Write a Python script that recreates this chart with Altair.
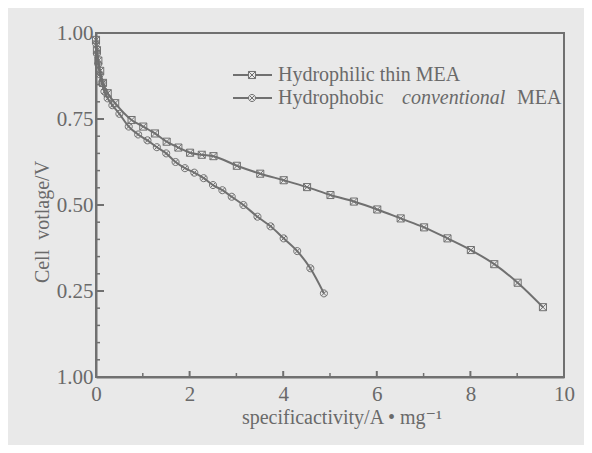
import altair as alt
import pandas as pd

# ---- data ----
philic_x = [0.0, 0.02, 0.05, 0.09, 0.15, 0.25, 0.41, 0.76, 1.01, 1.26, 1.51, 1.76, 2.01, 2.26, 2.51,
            3.01, 3.51, 4.01, 4.51, 5.01, 5.51, 6.01, 6.51, 7.01, 7.51, 8.01, 8.51, 9.01, 9.55]
philic_y = [0.98, 0.95, 0.92, 0.89, 0.855, 0.825, 0.796, 0.747, 0.728, 0.708, 0.684, 0.667, 0.652, 0.646, 0.642,
            0.614, 0.591, 0.572, 0.552, 0.529, 0.510, 0.487, 0.461, 0.435, 0.403, 0.369, 0.328, 0.274, 0.203]

phobic_x = [0.0, 0.02, 0.05, 0.08, 0.12, 0.18, 0.25, 0.35, 0.5, 0.7, 0.9, 1.1, 1.3, 1.5, 1.7, 1.9,
            2.1, 2.3, 2.5, 2.7, 2.9, 3.15, 3.45, 3.73, 4.01, 4.3, 4.58, 4.87]
phobic_y = [0.97, 0.94, 0.91, 0.88, 0.855, 0.83, 0.81, 0.79, 0.765, 0.728, 0.705, 0.688, 0.668, 0.65, 0.625, 0.607,
            0.594, 0.578, 0.558, 0.543, 0.524, 0.50, 0.466, 0.438, 0.403, 0.366, 0.316, 0.243]

series_names = ["Hydrophilic thin MEA", "Hydrophobic conventional MEA"]
y_ticks = [0.0, 0.25, 0.5, 0.75, 1.0]
y_minor = [0.05, 0.10, 0.15, 0.20, 0.30, 0.35, 0.40, 0.45, 0.55, 0.60, 0.65, 0.70, 0.80, 0.85, 0.90, 0.95]
x_ticks = [0, 2, 4, 6, 8, 10]
x_minor = [1, 3, 5, 7, 9]

# ---- styling ----
W, H = 468, 344
GRAY = "#707070"
TXT = "#6a6a6a"
BG = "#e9e9e9"
FONT = "Liberation Serif, DejaVu Serif, serif"
SQ_X = "M-1,-1H1V1H-1Z M-1,-1L1,1 M1,-1L-1,1"
CI_X = "M-1,0A1,1 0 1,1 1,0A1,1 0 1,1 -1,0Z M-0.7,-0.7L0.7,0.7 M0.7,-0.7L-0.7,0.7"

df = pd.concat([
    pd.DataFrame({"x": philic_x, "y": philic_y, "series": series_names[0]}),
    pd.DataFrame({"x": phobic_x, "y": phobic_y, "series": series_names[1]}),
])

xs = alt.Scale(domain=[0, 10], nice=False, zero=False)
ys = alt.Scale(domain=[0, 1], nice=False, zero=False)

x_axis = alt.Axis(values=x_ticks, tickSize=0, labelFont=FONT, labelFontSize=21, labelColor=TXT,
                  labelPadding=6, labelFlush=False, domainColor=GRAY, domainWidth=2, grid=False, title=None)
y_axis = alt.Axis(values=y_ticks, tickSize=0, labelFont=FONT, labelFontSize=21, labelColor=TXT,
                  labelPadding=3, labelFlush=False, domainColor=GRAY, domainWidth=2, grid=False, title=None,
                  labelExpr="datum.value == 0 ? '1.00' : format(datum.value, '.2f')")

lines = alt.Chart(df).mark_line(color=GRAY, strokeWidth=2, interpolate="monotone").encode(
    x=alt.X("x:Q", scale=xs, axis=x_axis),
    y=alt.Y("y:Q", scale=ys, axis=y_axis),
    detail="series:N",
)
points = alt.Chart(df).mark_point(filled=False, color=GRAY, strokeWidth=1, size=50, opacity=1).encode(
    x=alt.X("x:Q", scale=xs),
    y=alt.Y("y:Q", scale=ys),
    shape=alt.Shape("series:N", scale=alt.Scale(domain=series_names, range=[SQ_X, CI_X]), legend=None),
)

# inward ticks
ytk = alt.Chart(pd.DataFrame({"v": y_ticks})).mark_rule(color=GRAY, strokeWidth=2).encode(
    y=alt.Y("v:Q", scale=ys), x=alt.value(0), x2=alt.value(8))
ytm = alt.Chart(pd.DataFrame({"v": y_minor})).mark_rule(color=GRAY, strokeWidth=1.5).encode(
    y=alt.Y("v:Q", scale=ys), x=alt.value(0), x2=alt.value(4))
xtk = alt.Chart(pd.DataFrame({"v": x_ticks})).mark_rule(color=GRAY, strokeWidth=2).encode(
    x=alt.X("v:Q", scale=xs), y=alt.value(H), y2=alt.value(H - 6))
xtm = alt.Chart(pd.DataFrame({"v": x_minor})).mark_rule(color=GRAY, strokeWidth=1.5).encode(
    x=alt.X("v:Q", scale=xs), y=alt.value(H), y2=alt.value(H - 4))

one = pd.DataFrame({"a": [0]})

def leg_line(yp):
    return alt.Chart(one).mark_rule(color=GRAY, strokeWidth=2).encode(
        x=alt.value(137), x2=alt.value(176), y=alt.value(yp))

def leg_pt(yp, shp):
    return alt.Chart(one).mark_point(filled=True, fill=BG, stroke=GRAY, strokeWidth=1, size=50, opacity=1,
                                     shape=shp).encode(x=alt.value(156), y=alt.value(yp))

def txt(s, xp, yp, italic=False, angle=0, align="left", size=20):
    kw = dict(align=align, baseline="middle", font=FONT, fontSize=size, color=TXT)
    if italic:
        kw["fontStyle"] = "italic"
    if angle:
        kw["angle"] = angle
    return alt.Chart(one).mark_text(**kw).encode(x=alt.value(xp), y=alt.value(yp), text=alt.value(s))

legend = [
    leg_line(42), leg_pt(42, SQ_X), txt("Hydrophilic thin MEA", 182, 42),
    leg_line(65), leg_pt(65, CI_X), txt("Hydrophobic", 182, 65),
    txt("conventional", 306, 65, italic=True), txt("MEA", 421, 65),
]

titles = [
    txt("specificactivity/A \u2022 mg\u207b\u00b9", 246, 385, align="center"),
    txt("Cell\u00a0 votlage/V", -53, 189, angle=270, align="center"),
]

chart = alt.layer(lines, points, ytk, ytm, xtk, xtm, *legend, *titles).properties(
    width=W, height=H,
    autosize=alt.AutoSizeParams(type="none"),
    padding={"left": 88, "top": 25, "right": 20, "bottom": 68},
    background=BG,
).configure_view(stroke=GRAY, strokeWidth=2)

chart.save("out.html", embed_options={"renderer": "svg", "actions": False})
